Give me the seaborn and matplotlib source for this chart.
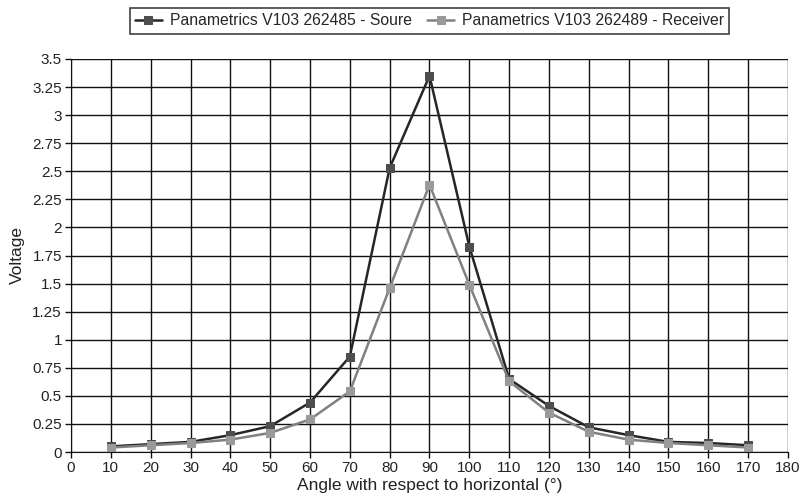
import numpy as np
import pandas as pd
import matplotlib
matplotlib.use("Agg")
import matplotlib.pyplot as plt
import seaborn as sns

angles = [10, 20, 30, 40, 50, 60, 70, 80, 90, 100, 110, 120, 130, 140, 150, 160, 170]
source_v = [0.05, 0.07, 0.09, 0.15, 0.23, 0.44, 0.85, 2.53, 3.35, 1.83, 0.65, 0.41, 0.22, 0.15, 0.09, 0.08, 0.06]
receiver_v = [0.04, 0.06, 0.08, 0.11, 0.17, 0.29, 0.54, 1.46, 2.38, 1.49, 0.63, 0.35, 0.18, 0.11, 0.08, 0.06, 0.04]
series_names = ["Panametrics V103 262485 - Soure", "Panametrics V103 262489 - Receiver"]
x_ticks = list(range(0, 181, 10))
y_ticks = [0, 0.25, 0.5, 0.75, 1, 1.25, 1.5, 1.75, 2, 2.25, 2.5, 2.75, 3, 3.25, 3.5]
y_tick_labels = ["0", "0.25", "0.5", "0.75", "1", "1.25", "1.5", "1.75", "2", "2.25", "2.5", "2.75", "3", "3.25", "3.5"]

df = pd.DataFrame({
    "angle": angles * 2,
    "voltage": source_v + receiver_v,
    "series": [series_names[0]] * len(angles) + [series_names[1]] * len(angles),
})

sns.set_style("white")
plt.rcParams["font.family"] = ["Liberation Sans", "DejaVu Sans"]

fig = plt.figure(figsize=(8.03, 4.97), dpi=100)
ax = fig.add_axes([71 / 803, 1 - 452 / 497, (788 - 71) / 803, (452 - 59) / 497])

line_colors = {series_names[0]: "#262626", series_names[1]: "#808080"}
marker_colors = ["#4d4d4d", "#9a9a9a"]

sns.lineplot(data=df, x="angle", y="voltage", hue="series", style="series",
             palette=line_colors, markers={series_names[0]: "s", series_names[1]: "s"},
             dashes=False, linewidth=1.8, markersize=6, ax=ax, legend=True)

# marker fill colours per series
for line, mc in zip(ax.get_lines()[:2], marker_colors):
    line.set_markerfacecolor(mc)
    line.set_markeredgecolor(mc)

ax.set_xlim(0, 180)
ax.set_ylim(0, 3.5)
ax.set_xticks(x_ticks)
ax.set_yticks(y_ticks)
ax.set_yticklabels(y_tick_labels)
ax.grid(True, color="#111111", linewidth=1.0)
ax.set_axisbelow(True)
for s in ax.spines.values():
    s.set_visible(False)
ax.spines["left"].set_visible(True)
ax.spines["left"].set_color("#111111")
ax.spines["bottom"].set_visible(True)
ax.spines["bottom"].set_color("#111111")
ax.tick_params(axis="both", which="both", length=4, width=1, color="#111111",
               labelsize=11, labelcolor="#222222", direction="out",
               left=True, bottom=True, pad=2.5)
ax.set_xlabel("Angle with respect to horizontal (°)", fontsize=12.5, color="#222222", labelpad=2)
ax.set_ylabel("Voltage", fontsize=12.5, color="#222222", labelpad=5)

handles, labels = ax.get_legend_handles_labels()
for h, mc in zip(handles, marker_colors):
    h.set_markerfacecolor(mc)
    h.set_markeredgecolor(mc)
leg = ax.legend(handles, labels, loc="lower center", bbox_to_anchor=(0.5, 1.064),
                ncol=2, frameon=True, fancybox=False, fontsize=11.3,
                handlelength=1.7, handletextpad=0.5, columnspacing=1.0,
                borderpad=0.35, borderaxespad=0)
leg.get_frame().set_edgecolor("#111111")
leg.get_frame().set_linewidth(1.2)

fig.savefig("out.png", dpi=100)
